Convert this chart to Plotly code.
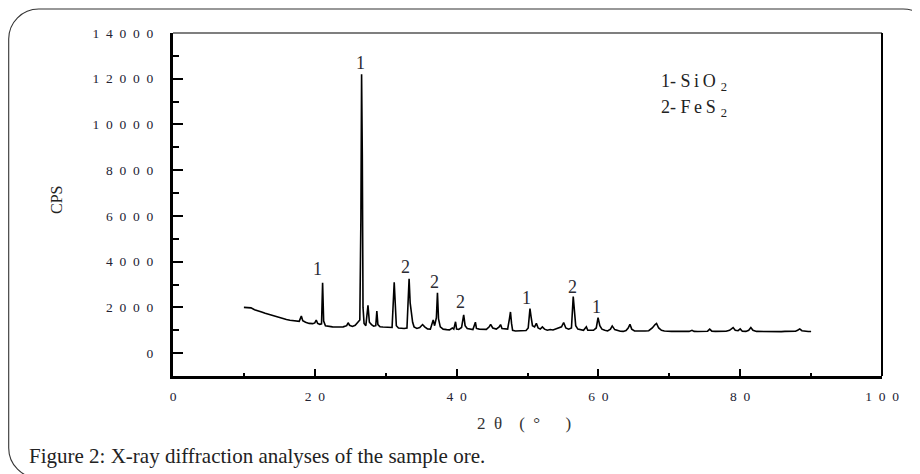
import plotly.graph_objects as go

# ---- data ----
two_theta = [10.0, 10.3, 10.7, 11.0, 11.5, 12.0, 12.5, 13.0, 13.5, 14.0, 14.5, 15.0, 15.5, 16.0, 16.5,
             17.0, 17.5, 17.8, 18.1, 18.3, 18.7, 19.2, 19.7, 20.0, 20.2, 20.4, 20.7, 20.95, 21.1, 21.25,
             21.5, 22.0, 22.5, 23.0, 23.5, 24.0, 24.5, 24.7, 24.9, 25.3, 25.7, 26.0, 26.2, 26.35, 26.5,
             26.6, 26.7, 26.8, 26.95, 27.2, 27.5, 27.7, 28.0, 28.3, 28.6, 28.75, 28.9, 29.2, 29.6, 30.0,
             30.5, 30.9, 31.2, 31.35, 31.5, 31.8, 32.2, 32.6, 33.0, 33.3, 33.45, 33.6, 33.8, 34.0, 34.4,
             34.8, 35.2, 35.5, 35.9, 36.3, 36.7, 36.9, 37.15, 37.3, 37.45, 37.7, 38.1, 38.6, 39.0, 39.4,
             39.6, 39.85, 40.0, 40.3, 40.7, 41.0, 41.2, 41.5, 41.9, 42.3, 42.65, 42.8, 43.2, 43.7, 44.2,
             44.6, 44.8, 45.1, 45.6, 46.0, 46.2, 46.4, 46.8, 47.2, 47.45, 47.6, 47.75, 47.9, 48.3, 48.8,
             49.3, 49.8, 50.1, 50.35, 50.5, 50.7, 51.0, 51.25, 51.5, 51.8, 52.1, 52.4, 52.8, 53.2, 53.6,
             54.0, 54.4, 54.8, 55.1, 55.4, 55.8, 56.2, 56.45, 56.6, 56.8, 57.1, 57.5, 57.9, 58.3, 58.5,
             58.9, 59.3, 59.7, 59.95, 60.2, 60.5, 60.9, 61.3, 61.7, 61.95, 62.3, 62.7, 63.1, 63.5, 63.9,
             64.2, 64.45, 64.7, 65.1, 65.6, 66.1, 66.6, 67.1, 67.6, 68.0, 68.2, 68.5, 68.9, 69.3, 69.8,
             70.3, 70.8, 71.3, 71.8, 72.3, 72.8, 73.2, 73.5, 74.0, 74.5, 75.0, 75.4, 75.7, 76.0, 76.5,
             77.0, 77.5, 78.0, 78.5, 78.8, 79.0, 79.3, 79.7, 80.0, 80.3, 80.8, 81.2, 81.5, 81.8, 82.3,
             82.8, 83.3, 83.8, 84.3, 84.8, 85.3, 85.8, 86.3, 86.8, 87.3, 87.8, 88.1, 88.4, 88.7, 89.2,
             89.6, 90.0]
cps = [2000, 1990, 1960, 1980, 1900, 1860, 1800, 1740, 1690, 1640, 1600, 1540, 1510, 1470, 1440,
       1410, 1380, 1390, 1620, 1420, 1350, 1300, 1290, 1320, 1450, 1300, 1260, 1280, 3080, 1400,
       1200, 1160, 1150, 1140, 1130, 1150, 1200, 1330, 1220, 1170, 1220, 1350, 1400, 1450, 5900,
       12200, 8700, 2000, 1300, 1200, 2090, 1350, 1250, 1180, 1200, 1840, 1250, 1150, 1140, 1130,
       1110, 1120, 3100, 1700, 1200, 1100, 1080, 1080, 1100, 3250, 2200, 1700, 1350, 1150, 1080,
       1120, 1250, 1150, 1060, 1050, 1450, 1200, 1550, 2640, 1500, 1150, 1050, 1030, 1020, 1100,
       1050, 1370, 1050, 1040, 1120, 1670, 1200, 1080, 1040, 1030, 1350, 1080, 1050, 1030, 1040,
       1150, 1260, 1100, 1050, 1150, 1250, 1080, 1050, 1050, 1500, 1800, 1300, 1000, 970, 970,
       980, 990, 1100, 1950, 1600, 1200, 1150, 1300, 1100, 1050, 1150, 1050, 1000, 1030, 1010,
       1050, 1100, 1150, 1340, 1100, 1050, 1100, 2470, 1700, 1200, 1050, 1020, 1000, 1150, 1000,
       1000, 1000, 1100, 1550, 1200, 1050, 1000, 970, 1050, 1190, 1030, 980, 960, 950, 990,
       1100, 1260, 1050, 970, 970, 960, 970, 980, 1100, 1250, 1300, 1100, 1000, 970, 950,
       950, 960, 950, 950, 955, 950, 1000, 950, 945, 940, 950, 960, 1050, 960, 950,
       945, 950, 960, 1000, 1080, 1120, 1000, 980, 1060, 960, 950, 1000, 1120, 1000, 950,
       945, 945, 950, 960, 950, 945, 940, 950, 945, 950, 960, 1000, 1060, 980, 950,
       945, 945]

peak_labels = ["1", "1", "2", "2", "2", "1", "2", "1"]
peak_label_x = [20.45, 26.5, 32.8, 36.95, 40.6, 49.9, 56.4, 59.8]
peak_label_y = [3660, 12680, 3750, 3090, 2220, 2400, 2880, 2000]

x_ticks = [0, 20, 40, 60, 80, 100]
y_ticks = [0, 2000, 4000, 6000, 8000, 10000, 12000, 14000]
legend_lines = ["1- S\u2009i\u2009O<sub>\u2009\u20092</sub>", "2- F\u2009e\u2009S<sub>\u2009\u20092</sub>"]
caption = "Figure 2: X-ray diffraction analyses of the sample ore."

# ---- layout geometry (screen pixels; the page body adds an 8px offset) ----
OFF = 8
SW, SH = 920, 474
W, H = SW - OFF, SH - OFF
L, R, T, B = 173, 882, 33, 376
SERIF = "Liberation Serif, Times New Roman, serif"
EN = "\u2002"


def spaced(v):
    return EN.join(str(v))


def px(xp):
    return (xp - L) / (R - L)


def py(yp):
    return (B - yp) / (B - T)


fig = go.Figure()
fig.add_trace(go.Scatter(x=two_theta, y=cps, mode="lines",
                         line=dict(color="black", width=1.6), hoverinfo="skip",
                         showlegend=False))

for t, xv, yv in zip(peak_labels, peak_label_x, peak_label_y):
    fig.add_annotation(x=xv, y=yv, text=t, showarrow=False,
                       font=dict(family=SERIF, size=18, color="#2b2b33"))

for i, t in enumerate(legend_lines):
    fig.add_annotation(xref="paper", yref="paper", x=px(659), y=py(82 + 26 * i),
                       xanchor="left", yanchor="middle", text=t, showarrow=False,
                       font=dict(family=SERIF, size=18, color="#222"))

fig.add_annotation(xref="paper", yref="paper", x=px(27), y=py(456), xanchor="left",
                   yanchor="middle", text=caption, showarrow=False,
                   font=dict(family=SERIF, size=21, color="#222"))

fig.add_annotation(xref="paper", yref="paper", x=px(524), y=py(423), xanchor="center",
                   yanchor="middle", text="2" + EN + "θ" + EN + EN + "(" + EN + "°" + EN + EN + EN + ")",
                   showarrow=False, font=dict(family=SERIF, size=17, color="#333"))

fig.add_annotation(xref="paper", yref="paper", x=px(56), y=py(200), xanchor="center",
                   yanchor="middle", text="CPS", textangle=-90, showarrow=False,
                   font=dict(family=SERIF, size=16, color="#222"))

# frame: top (thin grey) and right (black)
fig.add_shape(type="line", xref="paper", yref="paper", x0=0, x1=1, y0=1, y1=1,
              line=dict(color="#555", width=1.3))
fig.add_shape(type="line", xref="paper", yref="paper", x0=1, x1=1, y0=0, y1=1,
              line=dict(color="black", width=2))

# rounded outer border
rad = 30
k = 0.552 * rad
x0b, x1b, y0b, y1b = 8.7, 933, 9, 478


def P(a, b):
    return f"{px(a):.5f},{py(b):.5f}"


path = (f"M {P(x0b, y0b + rad)} C {P(x0b, y0b + rad - k)} {P(x0b + rad - k, y0b)} {P(x0b + rad, y0b)} "
        f"L {P(x1b - rad, y0b)} C {P(x1b - rad + k, y0b)} {P(x1b, y0b + rad - k)} {P(x1b, y0b + rad)} "
        f"L {P(x1b, y1b - rad)} C {P(x1b, y1b - rad + k)} {P(x1b - rad + k, y1b)} {P(x1b - rad, y1b)} "
        f"L {P(x0b + rad, y1b)} C {P(x0b + rad - k, y1b)} {P(x0b, y1b - rad + k)} {P(x0b, y1b - rad)} Z")
fig.add_shape(type="path", xref="paper", yref="paper", path=path,
              line=dict(color="#333", width=1.1), layer="below")

fig.update_layout(
    width=W, height=H,
    margin=dict(l=L - OFF, r=SW - R, t=T - OFF, b=SH - B),
    paper_bgcolor="white", plot_bgcolor="white",
    xaxis=dict(range=[0, 100], tickvals=x_ticks, ticktext=[spaced(v) for v in x_ticks],
               showgrid=False, zeroline=False, showline=True, linecolor="black", linewidth=2.5,
               ticks="inside", ticklen=7, tickwidth=2, tickcolor="black",
               minor=dict(ticks="inside", ticklen=3, tickwidth=2, tickcolor="black",
                          tickvals=[10, 30, 50, 70, 90]),
               ticklabelstandoff=6,
               tickfont=dict(family=SERIF, size=13.5, color="#222233")),
    yaxis=dict(range=[-1000, 14000], tickvals=y_ticks, ticktext=[spaced(v) for v in y_ticks],
               showgrid=False, zeroline=False, showline=True, linecolor="black", linewidth=3,
               ticks="inside", ticklen=10, tickwidth=2, tickcolor="black",
               minor=dict(ticks="inside", ticklen=6, tickwidth=2, tickcolor="black",
                          tickvals=[-1000, 1000, 3000, 5000, 7000, 9000, 11000, 13000]),
               ticklabelstandoff=14,
               tickfont=dict(family=SERIF, size=13.5, color="#222233")),
)

fig.write_html("out.html")
